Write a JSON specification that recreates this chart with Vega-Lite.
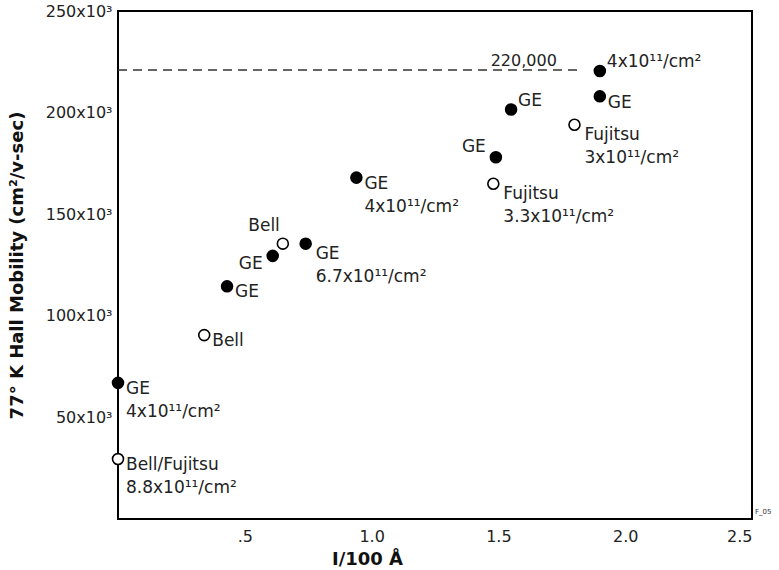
{
  "$schema": "https://vega.github.io/schema/vega-lite/v6.json",
  "width": 634,
  "height": 508,
  "autosize": {"type": "none"},
  "padding": {"left": 118, "top": 11, "right": 27, "bottom": 51},
  "background": "white",
  "config": {
    "view": {"stroke": "black", "strokeWidth": 2},
    "font": "DejaVu Sans",
    "axis": {
      "grid": false, "domain": false, "ticks": false, "tickSize": 0,
      "labelFont": "DejaVu Sans", "labelFontSize": 16, "labelColor": "#222",
      "titleFont": "DejaVu Sans", "titleFontWeight": "bold", "titleFontSize": 18, "titleColor": "#111"
    }
  },
  "datasets": {
    "pts": [
      {"id": 1, "x": 0.0, "y": 67, "kind": "filled", "label": "GE\n4x10¹¹/cm²"},
      {"id": 2, "x": 0.0, "y": 29.5, "kind": "open", "label": "Bell/Fujitsu\n8.8x10¹¹/cm²"},
      {"id": 3, "x": 0.34, "y": 90.5, "kind": "open", "label": "Bell"},
      {"id": 4, "x": 0.43, "y": 114.5, "kind": "filled", "label": "GE"},
      {"id": 5, "x": 0.61, "y": 129.5, "kind": "filled", "label": "GE"},
      {"id": 6, "x": 0.65, "y": 135.5, "kind": "open", "label": "Bell"},
      {"id": 7, "x": 0.74, "y": 135.5, "kind": "filled", "label": "GE\n6.7x10¹¹/cm²"},
      {"id": 8, "x": 0.94, "y": 168, "kind": "filled", "label": "GE\n4x10¹¹/cm²"},
      {"id": 9, "x": 1.48, "y": 165, "kind": "open", "label": "Fujitsu\n3.3x10¹¹/cm²"},
      {"id": 10, "x": 1.49, "y": 178, "kind": "filled", "label": "GE"},
      {"id": 11, "x": 1.55, "y": 201.5, "kind": "filled", "label": "GE"},
      {"id": 12, "x": 1.80, "y": 194, "kind": "open", "label": "Fujitsu\n3x10¹¹/cm²"},
      {"id": 13, "x": 1.90, "y": 208, "kind": "filled", "label": "GE"},
      {"id": 14, "x": 1.90, "y": 220.5, "kind": "filled", "label": "4x10¹¹/cm²"}
    ]
  },
  "encoding": {
    "x": {
      "field": "x", "type": "quantitative",
      "scale": {"domain": [0, 2.5], "nice": false, "zero": false},
      "axis": {
        "values": [0.5, 1, 1.5, 2, 2.5],
        "labelExpr": "datum.value == 0.5 ? '.5' : format(datum.value, '.1f')",
        "labelPadding": 9,
        "title": "I/100 Å",
        "titleX": 249, "titleY": 40, "titleBaseline": "middle", "titleAlign": "center"
      }
    },
    "y": {
      "field": "y", "type": "quantitative",
      "scale": {"domain": [0, 250], "nice": false},
      "axis": {
        "values": [50, 100, 150, 200, 250],
        "labelExpr": "datum.value + 'x10³'",
        "labelPadding": 6,
        "title": "77° K Hall Mobility (cm²/v-sec)",
        "titleX": -101, "titleY": 254, "titleAngle": -90, "titleBaseline": "middle", "titleAlign": "center"
      }
    }
  },
  "layer": [
    {
      "data": {"values": [{"x": 0, "x2": 1.82, "y": 221}]},
      "mark": {"type": "rule", "strokeDash": [9, 6], "strokeWidth": 1.5, "color": "#333"},
      "encoding": {"x2": {"field": "x2"}}
    },
    {
      "data": {"values": [{"x": 0.5}, {"x": 1.0}, {"x": 1.5}, {"x": 2.0}]},
      "mark": {"type": "tick", "orient": "vertical", "size": 12, "thickness": 1.5, "color": "black", "opacity": 1},
      "encoding": {"y": {"datum": 0, "type": "quantitative"}}
    },
    {
      "data": {"values": [{"y": 50}, {"y": 100}, {"y": 150}, {"y": 200}]},
      "mark": {"type": "tick", "orient": "horizontal", "size": 12, "thickness": 1.5, "color": "black", "opacity": 1},
      "encoding": {"x": {"datum": 0, "type": "quantitative"}}
    },
    {
      "data": {"name": "pts"},
      "mark": {"type": "point", "shape": "circle", "filled": true, "size": 120, "stroke": "black", "strokeWidth": 1.6, "opacity": 1, "clip": false},
      "encoding": {
        "fill": {"field": "kind", "type": "nominal", "scale": {"domain": ["filled", "open"], "range": ["black", "white"]}, "legend": null}
      }
    },
    {
      "data": {"name": "pts"},
      "transform": [{"filter": {"field": "id", "oneOf": [1, 2, 3, 4, 8]}}],
      "mark": {"type": "text", "align": "left", "baseline": "top", "dx": 8, "dy": -2, "fontSize": 17, "lineHeight": 23, "lineBreak": "\n", "color": "#222"},
      "encoding": {"text": {"field": "label"}}
    },
    {
      "data": {"name": "pts"},
      "transform": [{"filter": {"field": "id", "oneOf": [7, 9, 12]}}],
      "mark": {"type": "text", "align": "left", "baseline": "top", "dx": 10, "dy": 2, "fontSize": 17, "lineHeight": 23, "lineBreak": "\n", "color": "#222"},
      "encoding": {"text": {"field": "label"}}
    },
    {
      "data": {"name": "pts"},
      "transform": [{"filter": {"field": "id", "oneOf": [5]}}],
      "mark": {"type": "text", "align": "right", "baseline": "middle", "dx": -10, "dy": 8, "fontSize": 17, "color": "#222"},
      "encoding": {"text": {"field": "label"}}
    },
    {
      "data": {"name": "pts"},
      "transform": [{"filter": {"field": "id", "oneOf": [10]}}],
      "mark": {"type": "text", "align": "right", "baseline": "middle", "dx": -10, "dy": -10, "fontSize": 17, "color": "#222"},
      "encoding": {"text": {"field": "label"}}
    },
    {
      "data": {"name": "pts"},
      "transform": [{"filter": {"field": "id", "oneOf": [6]}}],
      "mark": {"type": "text", "align": "right", "baseline": "middle", "dx": -3, "dy": -18, "fontSize": 17, "color": "#222"},
      "encoding": {"text": {"field": "label"}}
    },
    {
      "data": {"name": "pts"},
      "transform": [{"filter": {"field": "id", "oneOf": [11, 14]}}],
      "mark": {"type": "text", "align": "left", "baseline": "middle", "dx": 7, "dy": -9, "fontSize": 17, "color": "#222"},
      "encoding": {"text": {"field": "label"}}
    },
    {
      "data": {"name": "pts"},
      "transform": [{"filter": {"field": "id", "oneOf": [13]}}],
      "mark": {"type": "text", "align": "left", "baseline": "middle", "dx": 8, "dy": 7, "fontSize": 17, "color": "#222"},
      "encoding": {"text": {"field": "label"}}
    },
    {
      "data": {"values": [{"x": 1.6, "y": 221, "label": "220,000"}]},
      "mark": {"type": "text", "align": "center", "baseline": "alphabetic", "dy": -4, "fontSize": 16, "color": "#222"},
      "encoding": {"text": {"field": "label"}}
    },
    {
      "data": {"values": [{"x": 2.5, "y": 0, "label": "F_05"}]},
      "mark": {"type": "text", "align": "left", "baseline": "bottom", "dx": 3, "dy": -4, "fontSize": 7, "color": "#333", "clip": false},
      "encoding": {"text": {"field": "label"}}
    }
  ]
}
